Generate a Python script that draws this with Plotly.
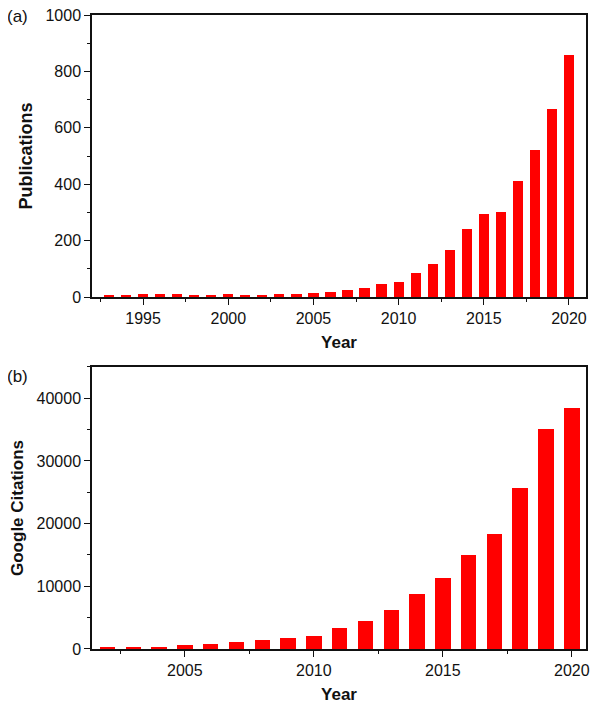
import plotly.graph_objects as go

years_a = list(range(1993, 2021))
publications = [6, 5, 9, 9, 9, 6, 6, 12, 6, 6, 10, 12, 14, 16, 24, 31, 45, 54,
                84, 116, 167, 242, 296, 300, 410, 523, 665, 858]

years_b = list(range(2002, 2021))
citations = [200, 350, 350, 580, 800, 1100, 1370, 1700, 2000, 3350, 4500,
             6300, 8800, 11300, 15000, 18400, 25700, 35050, 38400]

FONT = "Liberation Sans, Arial, sans-serif"
RED = "#FF0000"

fig = go.Figure()
fig.add_trace(go.Bar(x=years_a, y=publications, width=0.6, marker=dict(color=RED, line=dict(width=0)),
                     xaxis="x", yaxis="y", showlegend=False))
fig.add_trace(go.Bar(x=years_b, y=citations, width=0.6, marker=dict(color=RED, line=dict(width=0)),
                     xaxis="x2", yaxis="y2", showlegend=False))

axis_common = dict(showline=True, linecolor="#111", linewidth=1.5, mirror=True,
                   ticks="outside", ticklen=6, tickwidth=1.3, tickcolor="#111",
                   showgrid=False, zeroline=False, automargin=False,
                   ticklabeloverflow="allow",
                   tickfont=dict(family=FONT, size=16, color="#111"))

# page body has an 8px margin, so the figure is 16px smaller than the window
PW = 494
PH = 634
fig.update_layout(
    template="none",
    width=584, height=696,
    margin=dict(l=84, r=6, t=7, b=55, autoexpand=False),
    paper_bgcolor="white", plot_bgcolor="white",
    bargap=0,
    xaxis=dict(domain=[0, 1], anchor="y", range=[1992, 2021], tickmode="array",
               tickvals=[1995, 2000, 2005, 2010, 2015, 2020],
               minor=dict(ticks="outside", ticklen=3, tickcolor="#111", dtick=5, tick0=1992.5),
               title=dict(text="<b>Year</b>", font=dict(family=FONT, size=17, color="#111"), standoff=10),
               **axis_common),
    yaxis=dict(domain=[0.5552, 1], anchor="x", range=[0, 1000], tickmode="array",
               tickvals=[0, 200, 400, 600, 800, 1000], tickformat="d",
               minor=dict(ticks="outside", ticklen=3, tickcolor="#111", dtick=100),
               title=dict(text="<b>Publications</b>", font=dict(family=FONT, size=18, color="#111"), standoff=8),
               **axis_common),
    xaxis2=dict(domain=[0, 1], anchor="y2", range=[2001.4, 2020.55], tickmode="array",
                tickvals=[2005, 2010, 2015, 2020],
                minor=dict(ticks="outside", ticklen=3, tickcolor="#111", dtick=5, tick0=2002.5),
                title=dict(text="<b>Year</b>", font=dict(family=FONT, size=17, color="#111"), standoff=10),
                **axis_common),
    yaxis2=dict(domain=[0, 0.4448], anchor="x2", range=[0, 45000], dtick=10000, tickformat="d",
                minor=dict(ticks="outside", ticklen=3, tickcolor="#111", dtick=5000),
                title=dict(text="<b>Google Citations</b>", font=dict(family=FONT, size=17, color="#111"), standoff=10),
                **axis_common),
)

fig.add_annotation(text="(a)", xref="paper", yref="paper", x=-87/PW, y=1,
                   xanchor="left", yanchor="top", showarrow=False,
                   font=dict(family=FONT, size=17, color="#111"), yshift=10)
fig.add_annotation(text="(b)", xref="paper", yref="paper", x=-87/PW, y=(649 - 367)/PH,
                   xanchor="left", yanchor="top", showarrow=False,
                   font=dict(family=FONT, size=17, color="#111"), yshift=2)

fig.write_html("out.html")
